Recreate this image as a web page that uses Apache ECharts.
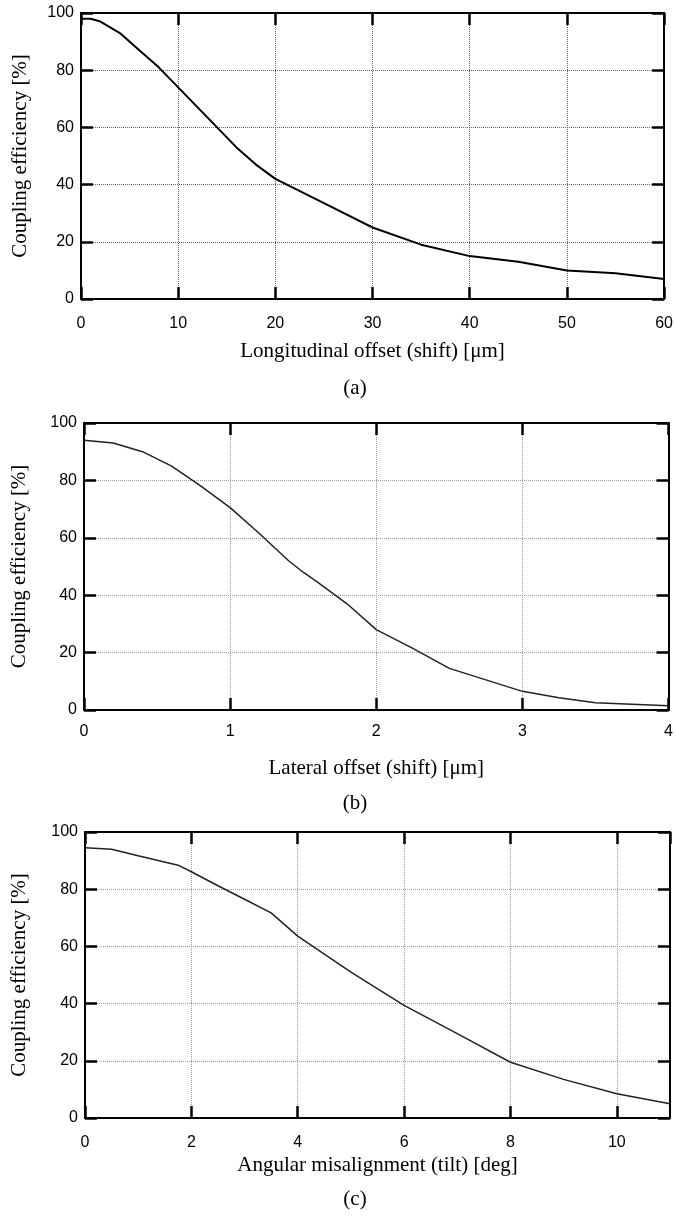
<!DOCTYPE html>
<html>
<head>
<meta charset="utf-8">
<script src="https://cdn.jsdelivr.net/npm/echarts@6.0.0/dist/echarts.min.js"></script>
<style>
    html, body { margin: 0; padding: 0; background: #fff; }
    #main { width: 676px; height: 1222px; }
</style>
</head>
<body>
<div id="main"></div>
<script>
    // (a) longitudinal offset
    let shiftX = [0, 1, 2, 4, 6, 8, 10, 12, 14, 16, 18, 20, 25, 30, 35, 40, 45, 50, 55, 60]
    let shiftY = [98, 98, 97, 93, 87, 81, 74, 67, 60, 53, 47, 42, 33.5, 25, 19, 15, 13, 10, 9, 7]
    // (b) lateral offset
    let lateralX = [0, 0.2, 0.4, 0.6, 0.8, 1.0, 1.2, 1.4, 1.5, 1.6, 1.8, 2.0, 2.25, 2.5, 2.75, 3.0, 3.25, 3.5, 3.75, 4.0]
    let lateralY = [94, 93, 90, 85, 78, 70.5, 61.5, 52, 48, 44.5, 37, 28, 21.5, 14.5, 10.5, 6.5, 4.3, 2.5, 2, 1.5]
    // (c) angular misalignment
    let tiltX = [0, 0.5, 1, 1.75, 2, 2.5, 3, 3.5, 4, 5, 6, 7, 8, 9, 10, 11]
    let tiltY = [94.5, 94, 91.7, 88.4, 86.1, 81.2, 76.5, 71.7, 63.6, 51, 39.4, 29.5, 19.5, 13.5, 8.5, 5]

    let yName = 'Coupling efficiency [%]'
    let xNames = ['Longitudinal offset (shift) [\u03bcm]', 'Lateral offset (shift) [\u03bcm]', 'Angular misalignment (tilt) [deg]']
    let captions = ['(a)', '(b)', '(c)']

    let sans = '"Liberation Sans", Arial, sans-serif'
    let serif = '"Liberation Serif", "Times New Roman", serif'

    let grids = [
        {left: 81, top: 13, width: 587, height: 286},
        {left: 84, top: 423, width: 586, height: 287},
        {left: 85, top: 832, width: 585, height: 286}
    ]
    let xRange = [
        {min: 0, max: 60, interval: 10},
        {min: 0, max: 4, interval: 1},
        {min: 0, max: 11, interval: 2}
    ]
    let labelMargin = [17, 14, 17]
    let xNameGap = [42, 48, 37]
    let yNameGap = [50, 54, 55]
    let captionGap = [89, 93, 81]
    let gridColors = ['#666', '#999', '#999']
    let lineStyles = [{color: '#000', width: 2}, {color: '#222', width: 1.5}, {color: '#222', width: 1.5}]

    let setTick = () => {
        return { show: true, inside: true, length: 12, lineStyle: {color: '#000', width: 2.5} }
    }
    let setLine = () => {
        return { show: true, onZero: false, lineStyle: {color: '#000', width: 2} }
    }

    let xAxis = []
    let yAxis = []
    let series = []
    let graphic = []
    let pairs = (xs, ys) => xs.map((x, i) => [x, ys[i]])
    let datas = [pairs(shiftX, shiftY), pairs(lateralX, lateralY), pairs(tiltX, tiltY)]

    grids.forEach((g, i) => {
        // bottom + top x axes
        xAxis.push({
            type: 'value', gridIndex: i, position: 'bottom',
            ...xRange[i],
            name: xNames[i], nameLocation: 'middle', nameGap: xNameGap[i],
            nameTextStyle: {fontFamily: serif, fontSize: 21, color: '#000'},
            axisLine: setLine(), axisTick: setTick(),
            axisLabel: {margin: labelMargin[i], fontFamily: sans, fontSize: 16, color: '#000', showMaxLabel: i != 2},
            splitLine: {show: true, lineStyle: {type: 'dotted', color: gridColors[i], width: 1}}
        })
        xAxis.push({
            type: 'value', gridIndex: i, position: 'top',
            ...xRange[i],
            axisLine: setLine(), axisTick: setTick(),
            axisLabel: {show: false}, splitLine: {show: false}
        })
        // left + right y axes
        yAxis.push({
            type: 'value', gridIndex: i, position: 'left',
            min: 0, max: 100, interval: 20,
            name: yName, nameLocation: 'middle', nameGap: yNameGap[i],
            nameTextStyle: {fontFamily: serif, fontSize: 21, color: '#000'},
            axisLine: setLine(), axisTick: setTick(),
            axisLabel: {margin: 7, fontFamily: sans, fontSize: 16, color: '#000'},
            splitLine: {show: true, lineStyle: {type: 'dotted', color: gridColors[i], width: 1}}
        })
        yAxis.push({
            type: 'value', gridIndex: i, position: 'right',
            min: 0, max: 100, interval: 20,
            axisLine: setLine(), axisTick: setTick(),
            axisLabel: {show: false}, splitLine: {show: false}
        })
        series.push({
            type: 'line',
            xAxisIndex: i * 2,
            yAxisIndex: i * 2,
            data: datas[i],
            showSymbol: false,
            symbol: 'none',
            lineStyle: lineStyles[i],
            silent: true,
            animation: false
        })
        graphic.push({
            type: 'text',
            x: 355,
            y: g.top + g.height + captionGap[i],
            style: {
                text: captions[i],
                font: '21px ' + serif,
                fill: '#000',
                align: 'center',
                verticalAlign: 'middle'
            }
        })
    })

    let myChart = echarts.init(document.getElementById('main'), null, {renderer: 'canvas'})
    myChart.setOption({
        animation: false,
        backgroundColor: '#fff',
        grid: grids,
        xAxis,
        yAxis,
        series,
        graphic
    })
</script>
</body>
</html>
